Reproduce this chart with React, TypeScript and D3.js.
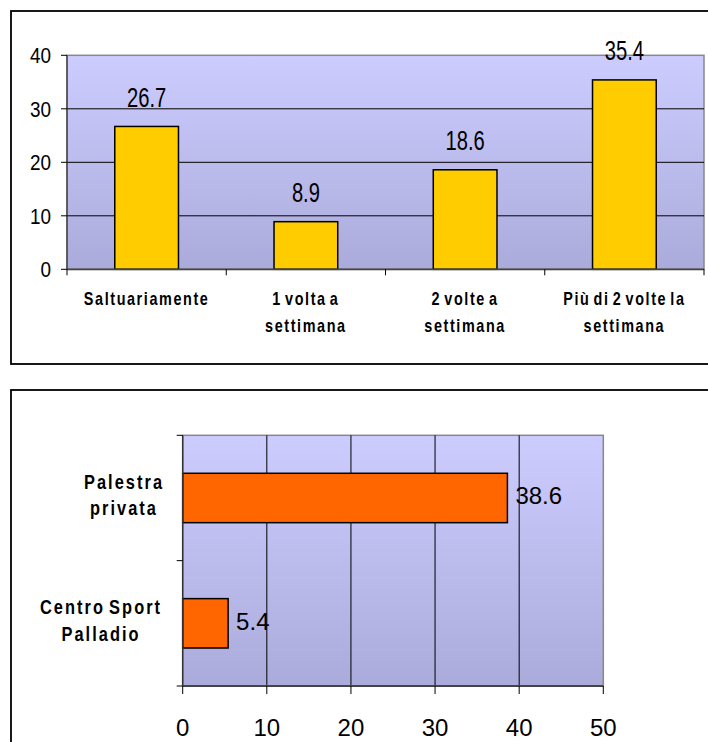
import React from "react";
import * as d3 from "d3";

const freqCategories: string[][] = [
  ["Saltuariamente"],
  ["1 volta a", "settimana"],
  ["2 volte a", "settimana"],
  ["Più di 2 volte la", "settimana"],
];
const freqValues = [26.7, 8.9, 18.6, 35.4];
const freqTicks = [0, 10, 20, 30, 40];

const placeCategories: string[][] = [
  ["Palestra", "privata"],
  ["Centro Sport", "Palladio"],
];
const placeValues = [38.6, 5.4];
const placeTicks = [0, 10, 20, 30, 40, 50];

const SANS = "'Liberation Sans', Arial, sans-serif";

export default function App() {
  // ---------- top chart ----------
  const t = { left: 67, right: 704, top: 55.3, bottom: 269.3 };
  const yTop = d3.scaleLinear().domain([0, 40]).range([t.bottom, t.top]);
  const xTop = d3
    .scaleBand<number>()
    .domain(freqValues.map((_, i) => i))
    .range([t.left, t.right])
    .padding(0);
  const barW = xTop.bandwidth() * 0.4;

  // ---------- bottom chart ----------
  const b = { left: 182.7, right: 603.3, top: 435.3, bottom: 686 };
  const xBot = d3.scaleLinear().domain([0, 50]).range([b.left, b.right]);
  const yBot = d3
    .scaleBand<number>()
    .domain(placeValues.map((_, i) => i))
    .range([b.top, b.bottom])
    .padding(0);
  const barH = yBot.bandwidth() * 0.394;

  return (
    <svg
      width={708}
      height={742}
      style={{ position: "absolute", left: 0, top: 0, background: "#fff" }}
    >
      <defs>
        <linearGradient id="bgGrad" x1="0" y1="0" x2="0" y2="1">
          <stop offset="0" stopColor="#CCCCFF" />
          <stop offset="1" stopColor="#ABABDB" />
        </linearGradient>
      </defs>

      {/* frames */}
      <rect x={11} y={11} width={720} height={353} fill="#fff" stroke="#000" strokeWidth={1.8} />
      <rect x={11} y={390} width={720} height={380} fill="#fff" stroke="#000" strokeWidth={1.8} />

      {/* ---------- TOP CHART ---------- */}
      <rect
        x={t.left}
        y={t.top}
        width={t.right - t.left}
        height={t.bottom - t.top}
        fill="url(#bgGrad)"
        stroke="#888"
        strokeWidth={1.5}
      />
      {freqTicks.slice(1, -1).map((v) => (
        <line key={"g" + v} x1={t.left} x2={t.right} y1={yTop(v)} y2={yTop(v)} stroke="#000" strokeWidth={1} />
      ))}
      {/* y axis */}
      <line x1={t.left} x2={t.left} y1={t.top} y2={t.bottom} stroke="#333" strokeWidth={1.2} />
      {freqTicks.map((v) => (
        <g key={"yt" + v}>
          <line x1={t.left - 6} x2={t.left} y1={yTop(v)} y2={yTop(v)} stroke="#000" strokeWidth={1} />
          <text
            transform={`translate(51,${yTop(v) + 7.8}) scale(0.86,1)`}
            textAnchor="end"
            fontFamily={SANS}
            fontSize={22}
            fill="#000"
          >
            {v}
          </text>
        </g>
      ))}
      {/* bars */}
      {freqValues.map((v, i) => {
        const cx = (xTop(i) as number) + xTop.bandwidth() / 2;
        return (
          <g key={"b" + i}>
            <rect
              x={cx - barW / 2}
              y={yTop(v)}
              width={barW}
              height={yTop(0) - yTop(v)}
              fill="#FFCC00"
              stroke="#000"
              strokeWidth={1.5}
            />
            <text
              transform={`translate(${cx},${yTop(v) - 19.5}) scale(0.72,1)`}
              textAnchor="middle"
              fontFamily={SANS}
              fontSize={28}
              fill="#000"
            >
              {v.toFixed(1)}
            </text>
          </g>
        );
      })}
      {/* x axis */}
      <line x1={t.left} x2={t.right} y1={t.bottom} y2={t.bottom} stroke="#444" strokeWidth={1.8} />
      {d3.range(freqValues.length + 1).map((i) => {
        const x = i < freqValues.length ? (xTop(i) as number) : t.right;
        return <line key={"xt" + i} x1={x} x2={x} y1={t.bottom} y2={t.bottom + 6} stroke="#000" strokeWidth={1} />;
      })}
      {freqCategories.map((lines, i) => {
        const cx = (xTop(i) as number) + xTop.bandwidth() / 2;
        return (
          <g key={"xl" + i}>
            {lines.map((l, j) => (
              <text
                key={j}
                transform={`translate(${cx},${305 + j * 26.5}) scale(0.8,1)`}
                textAnchor="middle"
                fontFamily={SANS}
                fontWeight="bold"
                fontSize={18}
                letterSpacing={2}
                wordSpacing={-3}
                fill="#000"
              >
                {l}
              </text>
            ))}
          </g>
        );
      })}

      {/* ---------- BOTTOM CHART ---------- */}
      <rect
        x={b.left}
        y={b.top}
        width={b.right - b.left}
        height={b.bottom - b.top}
        fill="url(#bgGrad)"
        stroke="#888"
        strokeWidth={1.5}
      />
      {placeTicks.slice(1, -1).map((v) => (
        <line key={"vg" + v} x1={xBot(v)} x2={xBot(v)} y1={b.top} y2={b.bottom} stroke="#000" strokeWidth={1} />
      ))}
      {/* bars */}
      {placeValues.map((v, i) => {
        const cy = (yBot(i) as number) + yBot.bandwidth() / 2;
        return (
          <g key={"hb" + i}>
            <rect
              x={xBot(0)}
              y={cy - barH / 2}
              width={xBot(v) - xBot(0)}
              height={barH}
              fill="#FF6600"
              stroke="#000"
              strokeWidth={1.5}
            />
            <text
              x={xBot(v) + 8}
              y={cy + 6.5}
              fontFamily={SANS}
              fontSize={24}
              fill="#000"
            >
              {v.toFixed(1)}
            </text>
          </g>
        );
      })}
      {/* y axis */}
      <line x1={b.left} x2={b.left} y1={b.top} y2={b.bottom} stroke="#333" strokeWidth={1.5} />
      {d3.range(placeValues.length + 1).map((i) => {
        const y = i < placeValues.length ? (yBot(i) as number) : b.bottom;
        return <line key={"yt2" + i} x1={b.left - 6} x2={b.left} y1={y} y2={y} stroke="#000" strokeWidth={1} />;
      })}
      {placeCategories.map((lines, i) => {
        const cy = (yBot(i) as number) + yBot.bandwidth() / 2;
        return (
          <g key={"yl" + i}>
            {lines.map((l, j) => (
              <text
                key={j}
                textAnchor="middle"
                fontFamily={SANS}
                fontWeight="bold"
                fontSize={20}
                letterSpacing={2.5}
                wordSpacing={-3}
                fill="#000"
                transform={`translate(${i === 0 ? 124 : 101},${cy - 9 + j * 26.5}) scale(0.82,1)`}
              >
                {l}
              </text>
            ))}
          </g>
        );
      })}
      {/* x axis */}
      <line x1={b.left} x2={b.right} y1={b.bottom} y2={b.bottom} stroke="#444" strokeWidth={1.8} />
      {placeTicks.map((v) => (
        <g key={"xt2" + v}>
          <line x1={xBot(v)} x2={xBot(v)} y1={b.bottom} y2={b.bottom + 8} stroke="#000" strokeWidth={1} />
          <text x={xBot(v)} y={736} textAnchor="middle" fontFamily={SANS} fontSize={24} fill="#000">
            {v}
          </text>
        </g>
      ))}
    </svg>
  );
}
